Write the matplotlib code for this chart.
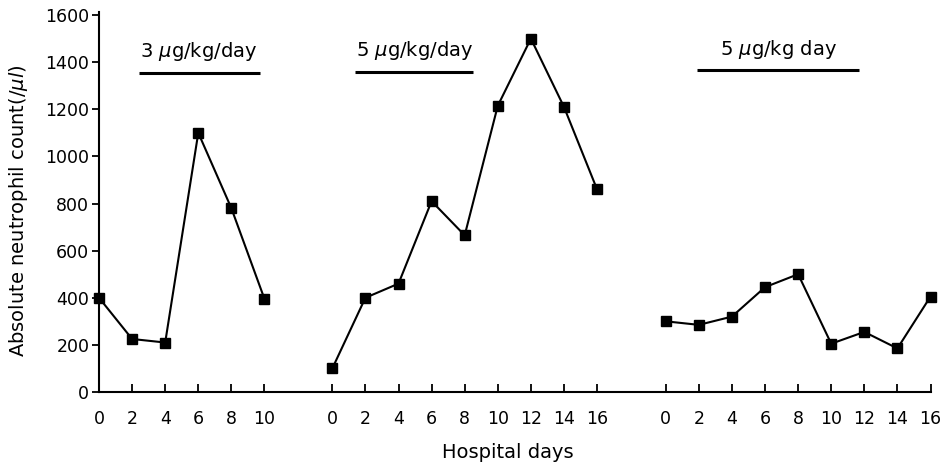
import matplotlib
matplotlib.use("Agg")
import matplotlib.pyplot as plt

# hospital days for each treatment course
days_1 = [0, 2, 4, 6, 8, 10]
days_2 = [0, 2, 4, 6, 8, 10, 12, 14, 16]
days_3 = [0, 2, 4, 6, 8, 10, 12, 14, 16]

# absolute neutrophil count (/ul)
anc_1 = [400, 225, 210, 1100, 780, 395]
anc_2 = [100, 400, 460, 810, 665, 1215, 1500, 1210, 860]
anc_3 = [300, 285, 320, 445, 500, 205, 255, 185, 405]

dose_labels = [r"3 $\mu$g/kg/day", r"5 $\mu$g/kg/day", r"5 $\mu$g/kg day"]

# where each course starts on the shared x axis (in days)
offsets = [0, 14.1, 34.25]
# dose bars: (start day, end day) within each course
bar_spans = [(2.4, 9.7), (1.4, 8.5), (1.9, 11.7)]

fig = plt.figure(figsize=(9.44, 4.68), dpi=100)
ax = fig.add_axes([99 / 944, 1 - 392 / 468, 831.5 / 944, 380 / 468])

courses = [(days_1, anc_1), (days_2, anc_2), (days_3, anc_3)]
ticks = []
tick_labels = []
for (d, v), off in zip(courses, offsets):
    xs = [off + x for x in d]
    ax.plot(xs, v, color="black", lw=1.5, marker="s", ms=7,
            markerfacecolor="black", clip_on=False, zorder=3)
    ticks += xs
    tick_labels += [str(x) for x in d]

for lab, (a, b), off, yb in zip(dose_labels, bar_spans, offsets, [1355, 1360, 1365]):
    ax.plot([off + a, off + b], [yb, yb], color="black", lw=2.2, solid_capstyle="butt")
    ax.text(off + (a + b) / 2, yb + 40, lab, ha="center", va="bottom", fontsize=14)

ax.set_xlim(0, 50.25)
ax.set_ylim(0, 1613)
ax.set_yticks(range(0, 1601, 200))
ax.set_xticks(ticks)
ax.set_xticklabels(tick_labels)

ax.spines["top"].set_visible(False)
ax.spines["right"].set_visible(False)
for s in ["left", "bottom"]:
    ax.spines[s].set_linewidth(1.5)

ax.tick_params(axis="y", direction="out", length=5, width=1.3, labelsize=12.5, pad=2)
ax.tick_params(axis="x", direction="in", length=6, width=1.3, labelsize=12.5, pad=13)

ax.set_ylabel(r"Absolute neutrophil count(/$\mu l$)", fontsize=14)
ax.yaxis.set_label_coords(-80 / 831.5, (392 - 211) / 380)
ax.set_xlabel("Hospital days", fontsize=14)
ax.xaxis.set_label_coords((507.5 - 99) / 831.5, -(453 - 392) / 380)
ax.xaxis.label.set_va("center")
ax.yaxis.label.set_va("center")

fig.savefig("out.png", dpi=100)
